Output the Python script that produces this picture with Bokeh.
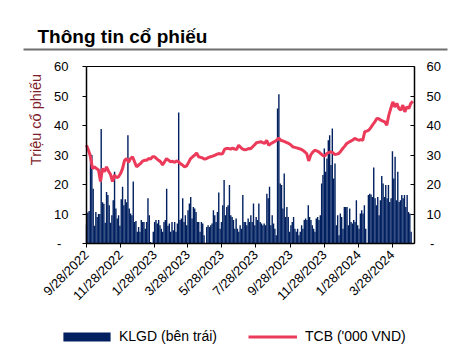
from math import pi
import pandas as pd
from bokeh.plotting import figure
from bokeh.core.properties import value
from bokeh.models import (ColumnDataSource, LinearAxis, FixedTicker,
                          Legend, LegendItem, Range1d)
from bokeh.embed import file_html
from bokeh.resources import INLINE

# ---------------- data ----------------
start_date = "2022-09-28"
bar_end_date = "2024-05-01"
line_end_date = "2024-05-04"
axis_end_date = "2024-05-07"

# KLGD - trading volume (million shares), left axis
klgd = [6.4, 10.5, 11, 30.5, 30, 18.6, 6, 10.7, 9, 10, 10, 38.8, 14, 13.5, 7, 17.5, 16.4, 13, 7, 9.6,
        14.7, 24.3, 11.9, 8.5, 9.6, 6, 15, 19.2, 13, 15, 14, 36.7, 11.9, 10.2, 9.6, 21, 7.3, 7.6, 4, 5.6,
        4, 8, 7.3, 7.3, 5, 7.3, 15.3, 9.6, 0.5, 0, 4, 7.3, 8, 6.8, 8, 6.2, 5, 4, 7.3, 8,
        18.6, 6,
        6.8, 4, 7.3, 4.5, 7.3, 4, 6.8, 44.4, 8, 8.5, 15.3, 7.3, 9.6, 6.2, 11.3, 13.6, 15.8, 8.5, 12.4, 11.9,
        10.7, 7.3, 7.3, 4, 7.3, 6.8, 2.8, 0, 5.6, 6.2, 5.6, 6.2, 6.8, 11.3, 9.6, 7.3, 10.7, 17.3, 5, 7.3,
        13, 21.5, 9.6, 12.4, 13, 19.8, 9.6, 9, 8, 5, 8.5, 5, 4, 6.2, 5, 16.4, 7.3, 7.3, 6.2, 8.5, 7.3,
        9.6, 7.3, 13.6, 6.2, 9, 8, 13.6, 7.3, 6.8, 6.2, 6.8, 6.2, 16.9, 15.3, 19.2, 6.2, 9.6, 6.8, 5, 2.8,
        45.8, 50.6, 20.3, 19.8, 11.9, 23.7, 9, 12.4, 9, 4, 6.2, 7.3, 9, 5, 4, 5, 2.8, 4, 6.2, 5,
        8, 8.5, 8, 13, 9, 8, 6.2, 5, 4, 8.5, 9, 8, 9.6, 20.3, 23.2, 32.2, 24.3, 28.8, 35, 36.7, 26.6, 39,
        22, 27.1, 6.2, 9.6, 2.8, 10.2, 9, 5, 12.4, 12.4, 12.4, 6.2, 11.9, 7.3, 6.8, 8, 7.3, 14.7, 6.2, 5,
        10.2, 11.3, 10.2, 13, 5, 0, 16.4, 16.9, 16.6, 15.8, 25.8, 15.3, 13, 15.8, 9.6, 14.7, 22.9, 20.3, 15.8, 19.8,
        15.3, 19.8, 14.1, 15.3, 31.3, 22, 29.4, 14.7, 24.3, 14.1, 14.7, 16.4, 15.3, 16.4, 12.4, 16.4, 10.7, 10.2, 4]

# TCB price ('000 VND), right axis
tcb = [33.3, 31.6, 29.4, 25.4, 26, 25.4, 24.9, 21, 25.4, 24.3,
       26, 24.5, 23.4, 21, 23.2, 22.3, 22.6, 23.7, 25.4, 28.2,
       28.8, 27.5, 28.8, 29.4, 27.7, 26, 26.6, 27.1, 27.9, 28.2,
       28.2, 28.8, 28.6, 29.4, 29.4, 28.8, 28.2, 27.7, 26.6, 27.7, 28.8,
       28.2, 27.7, 27.9, 27.5, 28, 27.7, 27, 26.6, 26, 26.3,
       27.5, 28.8, 29.4, 29.9, 30.7, 29.4, 29.2, 29, 28.6, 28.8,
       29.2, 29.4, 29.6, 29.9, 30.2, 30.5, 30.3, 30.5, 32, 32.2,
       32.2, 32, 32.4, 32, 31.9, 33.3, 32.6, 32, 31.8, 31.9, 32.2, 32.1,
       32.8, 33.5, 34.2, 34.3, 34.5, 34.2, 33.9, 35, 33.3, 33.8,
       34.2, 34.6, 35, 35.8, 35, 34.8, 34.5, 34.2, 33.9, 33.5,
       32.8, 32.6, 32.4, 32.2, 32, 31.6, 31.1, 30.5, 28, 30,
       31, 31.6, 31.4, 31.1, 30.5, 29.9, 29.6, 30.5, 30.8, 31.1,
       30.8, 30.2, 30.3, 30.5, 31.3, 32.2, 33, 33.9, 34.3, 34.7,
       35.1, 35.6, 35.3, 35, 35.2, 35, 37.9, 38.1, 38.4, 39.3,
       40.3, 41.2, 42.4, 42.3, 41.8, 41.5, 41.2, 40.1, 43.5, 45.8,
       48, 46.3, 47.5, 45.8, 45.2, 46.9, 44.6, 46.3, 45.8, 47.5, 48.2]

x_tick_labels = ["9/28/2022", "11/28/2022", "1/28/2023", "3/28/2023", "5/28/2023",
                 "7/28/2023", "9/28/2023", "11/28/2023", "1/28/2024", "3/28/2024"]
y_ticks = [0, 10, 20, 30, 40, 50, 60]
y_min, y_max = 0, 60

title_text = "Thông tin cổ phiếu"
y_title_text = "Triệu cổ phiếu"
series_names = ["KLGD (bên trái)", "TCB ('000 VND)"]

# ---------------- layout geometry (canvas pixels) ----------------
W, H = 456, 352
BOX_L, BOX_R, BOX_T, BOX_B = 86, 414, 66, 243

def to_ms(ts):
    return int(pd.Timestamp(ts).value // 10**6)

X0, X1 = to_ms(start_date), to_ms(axis_end_date)
ms_per_px = (X1 - X0) / (BOX_R - BOX_L)
val_per_px = (y_max - y_min) / (BOX_B - BOX_T)

def px2x(px):
    return X0 + (px - BOX_L) * ms_per_px

def py2y(py):
    return y_min + (BOX_B - py) * val_per_px

# ---------------- series positions ----------------
bar_dates = pd.date_range(start_date, bar_end_date, periods=len(klgd))
line_dates = pd.date_range(start_date, line_end_date, periods=len(tcb))
bar_x = [to_ms(d) for d in bar_dates]
line_x = [to_ms(d) for d in line_dates]
bar_w = (bar_x[1] - bar_x[0]) * 1.05
x_ticks = [to_ms(pd.to_datetime(s, format="%m/%d/%Y")) for s in x_tick_labels]

NAVY = "#002060"
RED = "#EC3B5A"
RULE = "#6E6E6E"
FONT = "Liberation Sans"

# frame covers the whole canvas; axes are pinned with fixed_location
p = figure(width=W, height=H, output_backend="svg", toolbar_location=None,
           x_range=Range1d(px2x(0), px2x(W)), y_range=Range1d(py2y(H), py2y(0)),
           min_border=0)
p.outline_line_color = None
p.xgrid.grid_line_color = None
p.ygrid.grid_line_color = None

vb = p.vbar(x="x", top="top", width=bar_w, source=ColumnDataSource(dict(x=bar_x, top=klgd)),
            fill_color=NAVY, line_color=None)
ln = p.line(x="x", y="y", source=ColumnDataSource(dict(x=line_x, y=tcb)),
            line_color=RED, line_width=3)

def style_axis(ax):
    ax.minor_tick_in = 0
    ax.minor_tick_out = 0
    ax.axis_line_width = 1.5
    ax.axis_line_color = "black"
    ax.major_tick_line_color = "black"
    ax.major_label_text_font = FONT
    ax.major_label_text_font_size = "13px"
    ax.major_label_text_color = "black"

xa = p.xaxis[0]
style_axis(xa)
xa.fixed_location = y_min
xa.bounds = (X0, X1)
xa.ticker = FixedTicker(ticks=x_ticks)
xa.major_label_overrides = {t: s for t, s in zip(x_ticks, x_tick_labels)}
xa.major_label_orientation = pi / 4
xa.major_tick_in = 0
xa.major_tick_out = 4

ya = p.yaxis[0]
style_axis(ya)
ya.fixed_location = X0
ya.bounds = (y_min, y_max)
ya.ticker = FixedTicker(ticks=y_ticks)
ya.major_label_overrides = {0: "-\u00a0\u00a0"}
ya.major_tick_in = 0
ya.major_tick_out = 4
ya.major_label_standoff = 14

ra = LinearAxis(ticker=FixedTicker(ticks=y_ticks))
style_axis(ra)
ra.fixed_location = X1
ra.bounds = (y_min, y_max)
ra.major_label_overrides = {0: "\u00a0-"}
ra.major_tick_in = 4
ra.major_tick_out = 0
ra.major_label_standoff = 12
p.add_layout(ra, "right")

ta = LinearAxis(ticker=FixedTicker(ticks=[]))
style_axis(ta)
ta.axis_line_width = 1
ta.fixed_location = y_max
ta.bounds = (X0, X1)
ta.major_tick_in = 0
ta.major_tick_out = 0
p.add_layout(ta, "above")

# header: title and rule
p.text(x=[px2x(37)], y=[py2y(36)], text=[title_text], text_font=value(FONT),
       text_font_size=value("19px"), text_font_style="bold", text_color="black",
       text_baseline="alphabetic", text_align="left")
p.segment(x0=[px2x(23)], y0=[py2y(49)], x1=[px2x(447)], y1=[py2y(49)],
          line_color=RULE, line_width=2)

# y axis title
p.text(x=[px2x(35)], y=[py2y(119)], text=[y_title_text], angle=pi / 2,
       text_font=value(FONT), text_font_size=value("14.5px"), text_color="#7F1D2D",
       text_align="center", text_baseline="middle")

# series legends (one per item so each swatch gets its own size)
leg_common = dict(orientation="horizontal", glyph_height=11, label_height=9,
                  padding=0, margin=0, border_line_color=None, background_fill_alpha=0,
                  label_text_font=FONT, label_text_font_size="14px",
                  label_text_color="black")
leg_bar = Legend(items=[LegendItem(label=series_names[0], renderers=[vb])],
                 location=(57, 8), glyph_width=59, label_standoff=3, **leg_common)
leg_line = Legend(items=[LegendItem(label=series_names[1], renderers=[ln])],
                  location=(248, 8), glyph_width=49, label_standoff=8, **leg_common)
p.add_layout(leg_bar)
p.add_layout(leg_line)

open("out.html", "w").write(file_html(p, INLINE))
